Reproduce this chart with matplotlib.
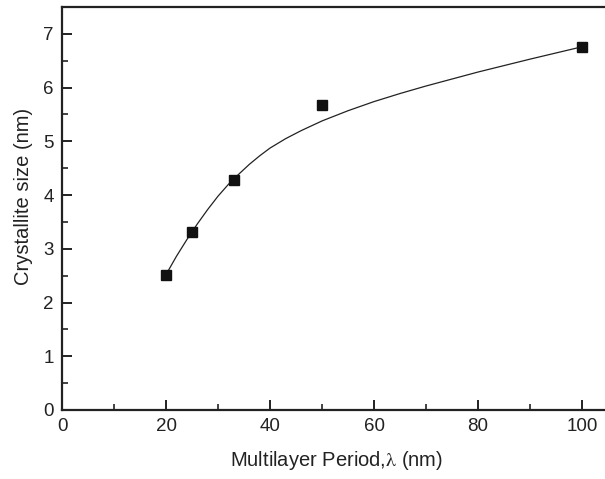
import matplotlib
matplotlib.use("Agg")
import matplotlib.pyplot as plt
from matplotlib.ticker import MultipleLocator

plt.rcParams['font.family'] = ['Liberation Sans', 'DejaVu Sans']
plt.rcParams['mathtext.fontset'] = 'stix'

# measured points
period = [20, 25, 33, 50, 100]
size = [2.52, 3.32, 4.28, 5.67, 6.76]

# fitted curve
curve_x = [20, 22, 24, 26, 28, 30, 32, 34, 36, 38, 40, 43, 46, 50, 55, 60, 65, 70, 75, 80, 85, 90, 95, 100]
curve_y = [2.52, 2.86, 3.17, 3.46, 3.73, 3.98, 4.20, 4.39, 4.57, 4.73, 4.875, 5.05, 5.20, 5.38, 5.57, 5.74,
           5.89, 6.03, 6.16, 6.29, 6.41, 6.53, 6.645, 6.76]

fig = plt.figure(figsize=(6.05, 4.79), dpi=100)
ax = fig.add_axes([62/605, 1-410/479, 1-62/605, (410-7)/479])

ax.plot(curve_x, curve_y, color='#222222', lw=0.9, solid_joinstyle='round')
ax.plot(period, size, 's', color='#111111', ms=7.5, mec='#111111')

ax.set_xlim(0, 104.4)
ax.set_ylim(0, 7.5)
ax.xaxis.set_major_locator(MultipleLocator(20))
ax.xaxis.set_minor_locator(MultipleLocator(10))
ax.yaxis.set_major_locator(MultipleLocator(1))
ax.yaxis.set_minor_locator(MultipleLocator(0.5))

for s in ['left', 'bottom', 'top']:
    ax.spines[s].set_linewidth(1.6)
    ax.spines[s].set_color('#222222')
ax.spines['right'].set_visible(False)

ax.tick_params(which='major', direction='in', length=7, width=1.4, labelsize=13.5, colors='#222222', pad=6)
ax.tick_params(which='minor', direction='in', length=4, width=1.2, colors='#222222')
ax.tick_params(axis='x', top=False)
ax.tick_params(axis='y', right=False)

ax.set_xlabel(r'Multilayer Period,$\mathrm{\lambda}$ (nm)', fontsize=14.5, color='#222222', labelpad=10)
ax.set_ylabel('Crystallite size (nm)', fontsize=14.5, color='#222222', labelpad=7)
ax.yaxis.label.set_y(0.531)
ax.xaxis.label.set_x(0.505)

fig.savefig('out.png', dpi=100)
